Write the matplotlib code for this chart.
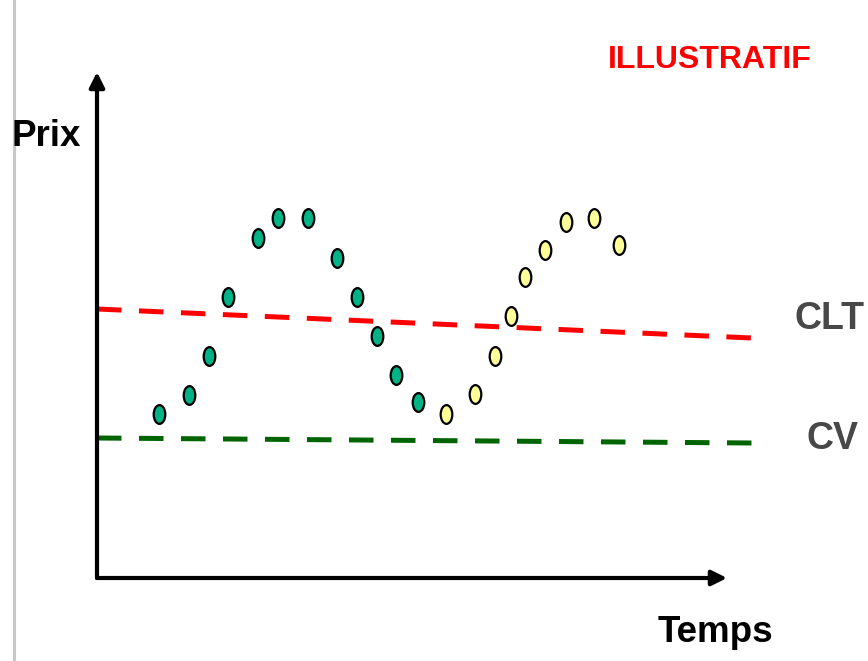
import numpy as np
import matplotlib
matplotlib.use("Agg")
import matplotlib.pyplot as plt
from matplotlib.path import Path
from matplotlib.transforms import Affine2D

plt.rcParams['font.family'] = ['Liberation Sans', 'DejaVu Sans']

# Price path (time units, price units) - green phase then yellow phase
green_t = [3.1, 4.6, 5.6, 6.55, 8.05, 9.05, 10.55, 12.0, 13.0, 14.0, 14.95, 16.05]
green_p = [16.4, 18.3, 22.2, 28.1, 34.0, 36.0, 36.0, 32.0, 28.1, 24.2, 20.3, 17.6]
yellow_t = [17.45, 18.9, 19.9, 20.7, 21.4, 22.4, 23.45, 24.85, 26.1]
yellow_p = [16.4, 18.4, 22.2, 26.2, 30.1, 32.8, 35.6, 36.0, 33.3]

# Cost curves: start / end
line_t = [0, 32.75]
clt = [26.9, 24.0]
cv = [14.0, 13.5]

axis_end_t = 31.5
axis_end_p = 50.6

fig = plt.figure(figsize=(8.68, 6.61), dpi=100)
ax = fig.add_axes([0, 0, 1, 1])
ax.set_xlim(-4.85, 38.55)
ax.set_ylim(-8.3, 57.8)
ax.axis('off')

# light grey border line at the left
ax.axvline(-4.15, color='#c8c8c8', lw=2.2)

# axes arrows
arrow = dict(arrowstyle='-|>,head_length=0.9,head_width=0.45', color='black',
             lw=3, shrinkA=0, shrinkB=0)
ax.annotate('', xy=(0, axis_end_p), xytext=(0, 0), arrowprops=arrow)
ax.annotate('', xy=(axis_end_t, 0), xytext=(0, 0), arrowprops=arrow)

# cost lines
ax.plot(line_t, clt, color='#ff0000', lw=3.6, dashes=[4.9, 3.5])
ax.plot(line_t, cv, color='#006400', lw=3.6, dashes=[4.9, 3.5])

# elliptical markers
ell = Path.unit_circle().transformed(Affine2D().scale(0.62, 1.0))
ax.plot(green_t, green_p, ls='none', marker=ell, ms=13.5, mfc='#00b386',
        mec='black', mew=1.6)
ax.plot(yellow_t, yellow_p, ls='none', marker=ell, ms=13.5, mfc='#ffff99',
        mec='black', mew=1.6)

# labels
ax.text(-4.25, 43.2, 'Prix', fontsize=26.5, fontweight='bold', color='black',
        ha='left', va='baseline')
ax.text(28.05, -6.4, 'Temps', fontsize=26.5, fontweight='bold', color='black',
        ha='left', va='baseline')
ax.text(34.85, 24.9, 'CLT', fontsize=27, fontweight='bold', color='#484848',
        ha='left', va='baseline')
ax.text(35.45, 12.9, 'CV', fontsize=27, fontweight='bold', color='#484848',
        ha='left', va='baseline')
ax.text(25.55, 51.0, 'ILLUSTRATIF', fontsize=23, fontweight='bold',
        color='#ff0000', ha='left', va='baseline')

fig.savefig('out.png', dpi=100)
